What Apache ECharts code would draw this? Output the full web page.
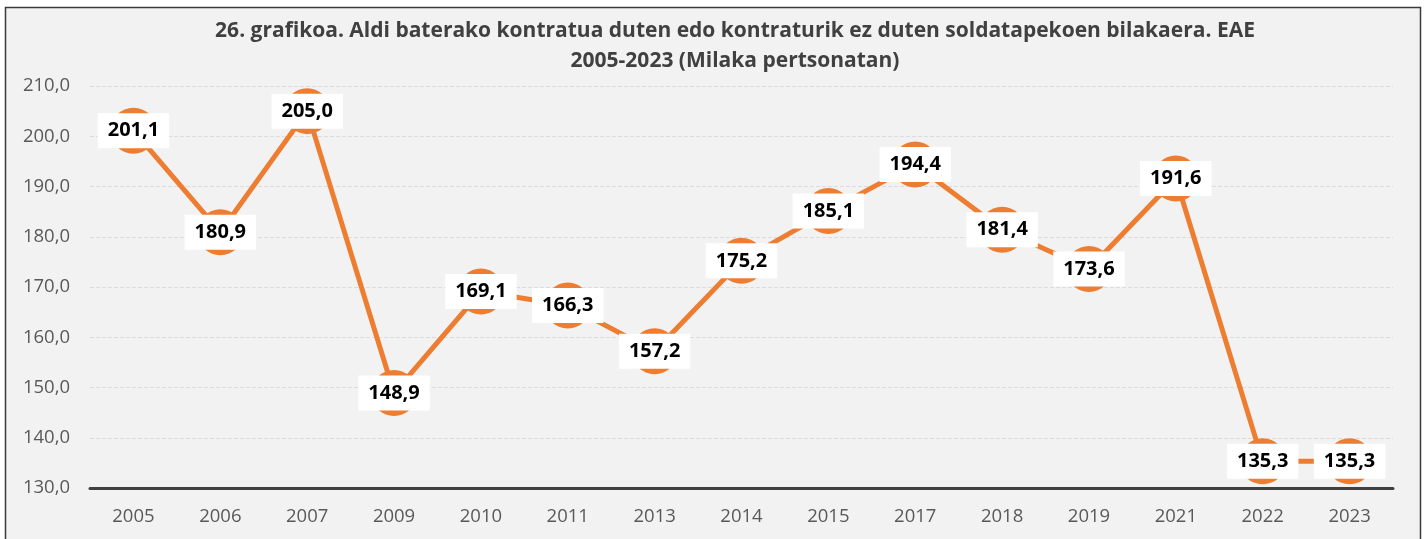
<!DOCTYPE html>
<html><head><meta charset="utf-8">
<script src="https://cdn.jsdelivr.net/npm/echarts@6/dist/echarts.min.js"></script>
<style>html,body{margin:0;padding:0;background:#fff;}#c{width:1425px;height:539px;}</style>
</head><body><div id="c"></div>
<script>
const categories = ['2005','2006','2007','2009','2010','2011','2013','2014','2015','2017','2018','2019','2021','2022','2023'];
const values = [201.1,180.9,205.0,148.9,169.1,166.3,157.2,175.2,185.1,194.4,181.4,173.6,191.6,135.3,135.3];
const titleLines = ['26. grafikoa. Aldi baterako kontratua duten edo kontraturik ez duten soldatapekoen bilakaera. EAE','2005-2023 (Milaka pertsonatan)'];
const fmt = v => v.toFixed(1).replace('.', ',');
const chart = echarts.init(document.getElementById('c'));
chart.setOption({
  animation:false,
  backgroundColor:'#fff',
  graphic:[{type:'rect',shape:{x:5.5,y:7.5,width:1415,height:540},style:{fill:'#f2f2f2',stroke:'#3a3a3a',lineWidth:1.5},z:-10}],
  title:{text:titleLines.join('\n'),left:735,top:16,padding:0,textAlign:'center',
    textStyle:{fontFamily:'Open Sans',fontWeight:'bold',fontSize:21,color:'#404040',lineHeight:30}},
  grid:{left:90,right:32,top:86,bottom:51,containLabel:false},
  xAxis:{type:'category',data:categories,boundaryGap:true,
    axisLine:{show:true,lineStyle:{color:'#404040',width:3}},
    axisTick:{show:false},
    axisLabel:{fontFamily:'Open Sans',fontSize:18.5,color:'#595959',margin:19}},
  yAxis:{type:'value',min:130,max:210,interval:10,
    axisLine:{show:false},axisTick:{show:false},
    axisLabel:{formatter:v=>fmt(v),fontFamily:'Open Sans',fontSize:18.5,color:'#595959',margin:20},
    splitLine:{lineStyle:{color:'#dcdcdc',type:'dashed',width:1}}},
  series:[{type:'line',data:values,
    lineStyle:{color:'#ED7D31',width:5},
    itemStyle:{color:'#ED7D31'},
    symbol:'circle',symbolSize:46,
    label:{show:true,position:'inside',formatter:p=>fmt(p.value),
      fontFamily:'Open Sans',fontWeight:'bold',fontSize:20,lineHeight:22,color:'#000',
      backgroundColor:'#fff',padding:[7,10,6,10]}}]
});
</script></body></html>
